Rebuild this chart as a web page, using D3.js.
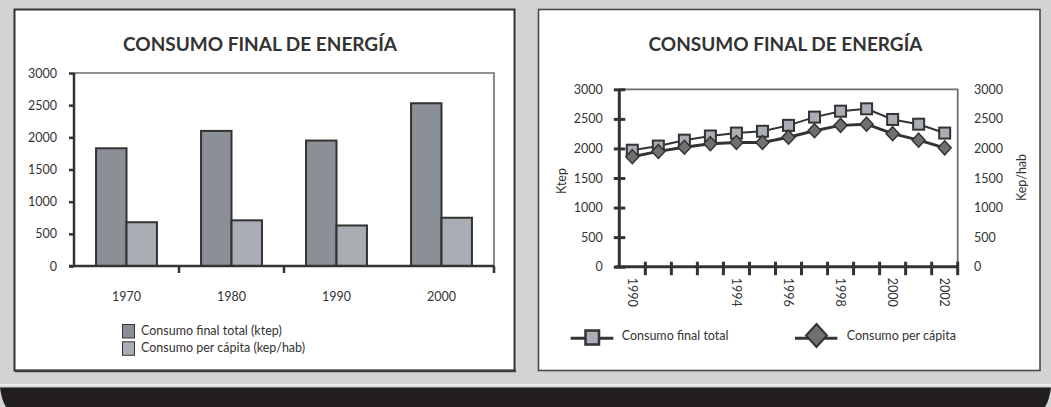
<!DOCTYPE html>
<html>
<head>
<meta charset="utf-8">
<script src="https://cdn.jsdelivr.net/npm/d3@7"></script>
<style>
  body { margin: 0; background: #d1d3d4; }
  svg { display: block; }
  text { font-family: Lato, "Open Sans", "DejaVu Sans", sans-serif; fill: #333; }
</style>
</head>
<body>
<svg id="chart" width="1051" height="407"></svg>
<script>
// ---- data ----
const chartTitle = "CONSUMO FINAL DE ENERGÍA";

const decades = ["1970", "1980", "1990", "2000"];
const decadeTotal = [1830, 2100, 1950, 2530];      // ktep
const decadePerCapita = [680, 710, 630, 750];      // kep/hab
const decadeTickAfter = ["1970", "1980", "2000"];  // category edges that carry a tick
const barLegend = ["Consumo final total (ktep)", "Consumo per cápita (kep/hab)"];

const years = [1990, 1991, 1992, 1993, 1994, 1995, 1996, 1997, 1998, 1999, 2000, 2001, 2002];
const yearLabels = ["1990", "", "", "", "1994", "", "1996", "", "1998", "", "2000", "", "2002"];
const yearTotal = [1970, 2040, 2140, 2210, 2260, 2290, 2390, 2530, 2630, 2670, 2490, 2410, 2260];
const yearPerCapita = [1860, 1950, 2020, 2080, 2100, 2100, 2190, 2300, 2390, 2410, 2250, 2140, 2010];
const lineLegend = ["Consumo final total", "Consumo per cápita"];
const leftAxisTitle = "Ktep";
const rightAxisTitle = "Kep/hab";

const yTicks = [0, 500, 1000, 1500, 2000, 2500, 3000];

// ---- colours ----
const ink = "#333";
const frameGrey = "#6d6e70";
const darkFill = "#8b8f96";
const lightFill = "#a9adb4";
const diamondFill = "#6e7074";

const fmt = d3.format("d");
const svg = d3.select("#chart");

// page background, light rule and dark footer band
svg.append("rect").attr("width", 1051).attr("height", 407).attr("fill", "#d1d3d4");
svg.append("rect").attr("x", 0).attr("y", 384).attr("width", 1051).attr("height", 2.2).attr("fill", "#ececed");
svg.append("path")
  .attr("d", "M0,387.5 L1051,387.5 Q1049.5,400 1045,407 L6,407 Q1.5,400 0,387.5 Z")
  .attr("fill", "#231f20");

// panels
svg.append("rect").attr("x", 14.5).attr("y", 9.5).attr("width", 500).attr("height", 361)
  .attr("fill", "#fff").attr("stroke", ink).attr("stroke-width", 2);
svg.append("line").attr("x1", 15).attr("x2", 516).attr("y1", 371).attr("y2", 371)
  .attr("stroke", "#3c3c3c").attr("stroke-width", 2.5);
svg.append("rect").attr("x", 538.5).attr("y", 9.5).attr("width", 501.5).attr("height", 361)
  .attr("fill", "#fff").attr("stroke", "#4a4a4a").attr("stroke-width", 1.6);

function styleAxis(g, size) {
  g.attr("font-family", "Lato, 'Open Sans', sans-serif").attr("font-size", size).attr("color", ink);
}

// =================== bar chart (decades) ===================
const gL = svg.append("g");
const xL = d3.scaleBand().domain(decades).range([74, 494]).paddingInner(0.42).paddingOuter(0.21);
const xLs = d3.scaleBand().domain([0, 1]).range([0, xL.bandwidth()]);
const yL = d3.scaleLinear().domain([0, 3000]).range([266, 73]);

gL.append("text").attr("x", 260).attr("y", 50.5).attr("text-anchor", "middle")
  .attr("font-size", 19).attr("font-weight", 700).text(chartTitle);

// plot frame (top and right sides)
gL.append("path")
  .attr("d", `M${xL.range()[0]},${yL(3000)} H${xL.range()[1]} V${yL(0)}`)
  .attr("fill", "none").attr("stroke", frameGrey).attr("stroke-width", 1.6);

// bars
const barData = decades.map((d, i) => ({ d, values: [decadeTotal[i], decadePerCapita[i]] }));
const groups = gL.selectAll("g.bar").data(barData).join("g")
  .attr("class", "bar").attr("transform", d => `translate(${xL(d.d)},0)`);
groups.selectAll("rect").data(d => d.values.map((v, k) => ({ v, k }))).join("rect")
  .attr("x", d => xLs(d.k))
  .attr("width", xLs.bandwidth())
  .attr("y", d => yL(d.v))
  .attr("height", d => yL(0) - yL(d.v))
  .attr("fill", d => d.k === 0 ? darkFill : lightFill)
  .attr("stroke", ink).attr("stroke-width", 2);

// y axis
gL.append("g").attr("transform", `translate(${xL.range()[0]},0)`)
  .call(d3.axisLeft(yL).tickValues(yTicks).tickFormat(fmt).tickSize(5).tickSizeOuter(0).tickPadding(12))
  .call(g => {
    styleAxis(g, 12.5);
    g.select(".domain").remove();
    g.selectAll(".tick line").attr("stroke-width", 2.5);
  });
gL.append("line").attr("x1", xL.range()[0]).attr("x2", xL.range()[0])
  .attr("y1", yL(3000)).attr("y2", yL(0)).attr("stroke", ink).attr("stroke-width", 2.5);

// x axis
gL.append("g").attr("transform", `translate(0,${yL(0)})`)
  .call(d3.axisBottom(xL).tickSize(0).tickPadding(34.5))
  .call(g => {
    styleAxis(g, 12.5);
    g.select(".domain").remove();
    g.selectAll(".tick text").attr("dy", 0);
  });
gL.append("line").attr("x1", xL.range()[0] - 5).attr("x2", xL.range()[1])
  .attr("y1", yL(0)).attr("y2", yL(0)).attr("stroke", ink).attr("stroke-width", 2.5);
const halfGap = xL.step() * xL.paddingInner() / 2;
gL.selectAll("line.xt").data(decadeTickAfter).join("line").attr("class", "xt")
  .attr("x1", d => xL(d) + xL.bandwidth() + halfGap)
  .attr("x2", d => xL(d) + xL.bandwidth() + halfGap)
  .attr("y1", yL(0)).attr("y2", yL(0) + 7)
  .attr("stroke", ink).attr("stroke-width", 2.5);

// legend
const legL = gL.selectAll("g.leg").data(barLegend).join("g").attr("class", "leg")
  .attr("transform", (d, i) => `translate(122.5,${324.5 + i * 17.3})`);
legL.append("rect").attr("width", 12).attr("height", 13.5)
  .attr("fill", (d, i) => i === 0 ? darkFill : lightFill).attr("stroke", ink).attr("stroke-width", 1);
legL.append("text").attr("x", 18.5).attr("y", 10.5).attr("font-size", 12.5).text(d => d);

// =================== line chart (years) ===================
const gR = svg.append("g");
const xR = d3.scaleBand().domain(years).range([619.3, 957.7]);
const yR = d3.scaleLinear().domain([0, 3000]).range([266.7, 89.3]);
const cx = y => xR(y) + xR.bandwidth() / 2;

gR.append("text").attr("x", 785.5).attr("y", 50.5).attr("text-anchor", "middle")
  .attr("font-size", 19).attr("font-weight", 700).text(chartTitle);

// frame: top + right
gR.append("path")
  .attr("d", `M${xR.range()[0]},${yR(3000)} H${xR.range()[1]} V${yR(0)}`)
  .attr("fill", "none").attr("stroke", frameGrey).attr("stroke-width", 1.8);

// left axis
gR.append("g").attr("transform", `translate(${xR.range()[0]},0)`)
  .call(d3.axisLeft(yR).tickValues(yTicks).tickFormat(fmt).tickSize(5.5).tickSizeOuter(0).tickPadding(11))
  .call(g => {
    styleAxis(g, 12.5);
    g.select(".domain").remove();
    g.selectAll(".tick line").attr("x1", 6).attr("stroke-width", 3);
  });
gR.append("line").attr("x1", xR.range()[0]).attr("x2", xR.range()[0])
  .attr("y1", yR(3000)).attr("y2", yR(0)).attr("stroke", ink).attr("stroke-width", 3);

// right axis
gR.append("g").attr("transform", `translate(${xR.range()[1]},0)`)
  .call(d3.axisRight(yR).tickValues(yTicks).tickFormat(fmt).tickSize(0).tickPadding(16.3))
  .call(g => {
    styleAxis(g, 12.5);
    g.select(".domain").remove();
    g.selectAll(".tick line").remove();
  });

// bottom axis with rotated year labels
gR.append("g").attr("transform", `translate(0,${yR(0)})`)
  .call(d3.axisBottom(xR).tickSize(0).tickFormat((d, i) => yearLabels[i]))
  .call(g => {
    styleAxis(g, 12.5);
    g.select(".domain").remove();
    g.selectAll(".tick text")
      .attr("transform", "rotate(90)")
      .attr("text-anchor", "start")
      .attr("x", 11).attr("y", 0).attr("dy", "0.36em");
  });
gR.append("line").attr("x1", xR.range()[0] - 4).attr("x2", xR.range()[1])
  .attr("y1", yR(0)).attr("y2", yR(0)).attr("stroke", ink).attr("stroke-width", 3);
gR.selectAll("line.xt").data(years).join("line").attr("class", "xt")
  .attr("x1", d => xR(d) + xR.step()).attr("x2", d => xR(d) + xR.step())
  .attr("y1", yR(0) - 5).attr("y2", yR(0) + 8.5)
  .attr("stroke", ink).attr("stroke-width", 3);

// axis titles
gR.append("text").attr("transform", "translate(566,181) rotate(-90)")
  .attr("text-anchor", "middle").attr("font-size", 12.5).text(leftAxisTitle);
gR.append("text").attr("transform", "translate(1025.5,177.5) rotate(-90)")
  .attr("text-anchor", "middle").attr("font-size", 12.5).text(rightAxisTitle);

// series
const totalPts = years.map((y, i) => ({ y, v: yearTotal[i] }));
const capitaPts = years.map((y, i) => ({ y, v: yearPerCapita[i] }));
const line = d3.line().x(d => cx(d.y)).y(d => yR(d.v));
const diamond = (w, h) => `M0,${-h} L${w},0 L0,${h} L${-w},0 Z`;

gR.append("path").datum(totalPts).attr("d", line)
  .attr("fill", "none").attr("stroke", ink).attr("stroke-width", 2);
gR.selectAll("rect.sq").data(totalPts).join("rect").attr("class", "sq")
  .attr("x", d => cx(d.y) - 5.5).attr("y", d => yR(d.v) - 5.5)
  .attr("width", 11).attr("height", 11)
  .attr("fill", lightFill).attr("stroke", ink).attr("stroke-width", 2);

gR.append("path").datum(capitaPts).attr("d", line)
  .attr("fill", "none").attr("stroke", ink).attr("stroke-width", 3);
gR.selectAll("path.dm").data(capitaPts).join("path").attr("class", "dm")
  .attr("transform", d => `translate(${cx(d.y)},${yR(d.v)})`)
  .attr("d", diamond(6.5, 7))
  .attr("fill", diamondFill).attr("stroke", ink).attr("stroke-width", 1.5);

// legend
const legR = gR.append("g");
legR.append("line").attr("x1", 570.7).attr("x2", 613.3).attr("y1", 338.3).attr("y2", 338.3)
  .attr("stroke", ink).attr("stroke-width", 3);
legR.append("rect").attr("x", 585.5).attr("y", 330.5).attr("width", 13.5).attr("height", 14)
  .attr("fill", lightFill).attr("stroke", ink).attr("stroke-width", 2.5);
legR.append("text").attr("x", 621.7).attr("y", 340).attr("font-size", 12.5).text(lineLegend[0]);
legR.append("line").attr("x1", 795).attr("x2", 837.3).attr("y1", 338.3).attr("y2", 338.3)
  .attr("stroke", ink).attr("stroke-width", 3);
legR.append("path").attr("transform", "translate(816.5,335.5)").attr("d", diamond(10.5, 11.5))
  .attr("fill", diamondFill).attr("stroke", ink).attr("stroke-width", 2);
legR.append("text").attr("x", 846.7).attr("y", 340).attr("font-size", 12.5).text(lineLegend[1]);
</script>
</body>
</html>
